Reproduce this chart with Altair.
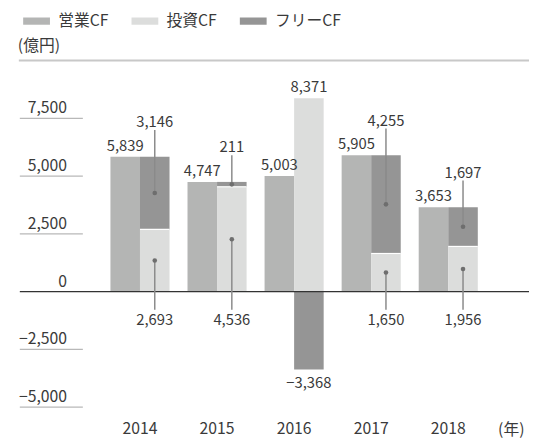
import altair as alt
import pandas as pd

# ---- data ----
years = ["2014", "2015", "2016", "2017", "2018"]
operating = [5839, 4747, 5003, 5905, 3653]   # 営業CF
investing = [2693, 4536, 8371, 1650, 1956]   # 投資CF (shown as magnitude)
free_cf = [3146, 211, -3368, 4255, 1697]     # フリーCF
series_names = ["営業CF", "投資CF", "フリーCF"]
series_colors = ["#b4b5b4", "#dcdddc", "#959595"]
tick_values = [-5000, -2500, 2500, 5000, 7500]
tick_labels = ["−5,000", "−2,500", "2,500", "5,000", "7,500"]

FONT = "Noto Sans CJK JP"
TXT = "#3a3a3a"
W, H = 517, 352
BW = 30  # bar width
FS_AX = 16
FS_VAL = 15

def fmt(v):
    s = f"{abs(v):,}"
    return ("−" + s) if v < 0 else s

# bars: left column = operating, right column = investing + free
left_df = pd.DataFrame(dict(year=years, series="営業CF", y0=0, y1=operating))
rrows = []
for yr, op, inv, fr in zip(years, operating, investing, free_cf):
    rrows.append(dict(year=yr, series="投資CF", y0=0, y1=inv))
    if fr >= 0:
        rrows.append(dict(year=yr, series="フリーCF", y0=inv, y1=op))
    else:
        rrows.append(dict(year=yr, series="フリーCF", y0=0, y1=fr))
right_df = pd.DataFrame(rrows)

op_df = pd.DataFrame(dict(year=years, v=operating, label=[fmt(v) for v in operating]))
pos = [(yr, op, inv, fr) for yr, op, inv, fr in zip(years, operating, investing, free_cf) if fr >= 0]
neg = [(yr, op, inv, fr) for yr, op, inv, fr in zip(years, operating, investing, free_cf) if fr < 0]

pos_df = pd.DataFrame(dict(
    year=[p[0] for p in pos],
    op=[p[1] for p in pos], inv=[p[2] for p in pos],
    inv_mid=[p[2] / 2 for p in pos],
    free_mid=[(p[2] + p[1]) / 2 for p in pos],
    inv_label=[fmt(p[2]) for p in pos],
    free_label=[fmt(p[3]) for p in pos],
))
neg_df = pd.DataFrame(dict(
    year=[p[0] for p in neg],
    inv=[p[2] for p in neg], fr=[p[3] for p in neg],
    inv_label=[fmt(p[2]) for p in neg],
    free_label=[fmt(p[3]) for p in neg],
))
ticks_df = pd.DataFrame(dict(v=tick_values, label=tick_labels))
lab0_df = pd.DataFrame(dict(v=[0], label=["0"]))

xscale = alt.Scale(domain=years, paddingInner=0.233, paddingOuter=0.92, align=0.639)
yscale = alt.Scale(domain=[-5000, 10000], nice=False, zero=False)
X = alt.X("year:N", scale=xscale,
          axis=alt.Axis(title=None, domain=False, ticks=False, labelAngle=0,
                        labelFontSize=FS_AX, labelPadding=14, labelColor=TXT, labelFont=FONT))

def Y(f):
    return alt.Y(f, scale=yscale, axis=None)

color = alt.Color("series:N", scale=alt.Scale(domain=series_names, range=series_colors),
                  legend=alt.Legend(title=None, orient="none", legendX=3, legendY=-54,
                                    direction="horizontal",
                                    symbolType="M-1,-0.27H1V0.27H-1Z", symbolSize=740,
                                    symbolStrokeWidth=0, labelOffset=8, columnPadding=22,
                                    labelFontSize=FS_AX, labelFont=FONT, labelColor=TXT))

bars_l = alt.Chart(left_df).mark_bar(width=BW, xOffset=-BW / 2).encode(
    x=X, y=Y("y0:Q"), y2="y1:Q", color=color)
bars_r = alt.Chart(right_df).mark_bar(width=BW, xOffset=BW / 2).encode(
    x=X, y=Y("y0:Q"), y2="y1:Q", color=color)

# thin white separator between stacked segments
sep = alt.Chart(pos_df).mark_tick(color="white", thickness=1.2, size=BW,
                                  xOffset=BW / 2, opacity=1).encode(
    x=X, y=Y("inv:Q"))

# grid stubs and y labels
stubs = alt.Chart(ticks_df).mark_rule(color="#b8b8b8", strokeWidth=1.3).encode(
    y=Y("v:Q"), x=alt.value(0), x2=alt.value(64))
ylabels = alt.Chart(pd.concat([ticks_df, lab0_df])).mark_text(
    align="right", baseline="alphabetic", dy=-5, fontSize=FS_AX, font=FONT, color=TXT).encode(
    y=Y("v:Q"), x=alt.value(48), text="label:N")

zero = alt.Chart(lab0_df).mark_rule(color="#333333", strokeWidth=1.5).encode(
    y=Y("v:Q"), x=alt.value(0), x2=alt.value(W))
top = alt.Chart(lab0_df).mark_rule(color="#c8c8c8", strokeWidth=2).encode(
    y=alt.value(0), x=alt.value(-1), x2=alt.value(W))

# value labels
op_text = alt.Chart(op_df).mark_text(baseline="alphabetic", dy=-6, xOffset=-BW / 2,
                                     fontSize=FS_VAL, font=FONT, color=TXT).encode(
    x=X, y=Y("v:Q"), text="label:N")

LEAD = "#8a8a8a"
inv_lead = alt.Chart(pos_df).mark_rule(color=LEAD, strokeWidth=1.5, xOffset=BW / 2).encode(
    x=X, y=Y("inv_mid:Q"), y2=alt.value(253))
free_lead = alt.Chart(pos_df).mark_rule(color=LEAD, strokeWidth=1.5, xOffset=BW / 2,
                                        y2Offset=-27).encode(
    x=X, y=Y("free_mid:Q"), y2="op:Q")
dots_inv = alt.Chart(pos_df).mark_circle(color="#6e6e6e", size=22, opacity=1,
                                         xOffset=BW / 2).encode(
    x=X, y=Y("inv_mid:Q"))
dots_free = alt.Chart(pos_df).mark_circle(color="#6e6e6e", size=22, opacity=1,
                                          xOffset=BW / 2).encode(
    x=X, y=Y("free_mid:Q"))
inv_text = alt.Chart(pos_df).mark_text(baseline="alphabetic", fontSize=FS_VAL, font=FONT,
                                       color=TXT, xOffset=BW / 2).encode(
    x=X, y=alt.value(269), text="inv_label:N")
free_text = alt.Chart(pos_df).mark_text(baseline="alphabetic", dy=-30, fontSize=FS_VAL,
                                        font=FONT, color=TXT, xOffset=BW / 2).encode(
    x=X, y=Y("op:Q"), text="free_label:N")
neg_inv_text = alt.Chart(neg_df).mark_text(baseline="alphabetic", dy=-6, fontSize=FS_VAL,
                                           font=FONT, color=TXT, xOffset=BW / 2).encode(
    x=X, y=Y("inv:Q"), text="inv_label:N")
neg_free_text = alt.Chart(neg_df).mark_text(baseline="alphabetic", dy=19, fontSize=FS_VAL,
                                            font=FONT, color=TXT, xOffset=BW / 2).encode(
    x=X, y=Y("fr:Q"), text="free_label:N")

unit_y = alt.Chart(lab0_df).mark_text(align="left", baseline="middle", fontSize=FS_AX,
                                      font=FONT, color=TXT, text="(億円)").encode(
    x=alt.value(-2), y=alt.value(-15))
unit_x = alt.Chart(lab0_df).mark_text(align="center", baseline="middle", fontSize=FS_AX,
                                      font=FONT, color=TXT, text="(年)").encode(
    x=alt.value(499), y=alt.value(H + 23))

chart = alt.layer(
    top, stubs, bars_l, bars_r, sep, zero, ylabels, op_text,
    inv_lead, free_lead, dots_inv, dots_free,
    inv_text, free_text, neg_inv_text, neg_free_text, unit_y, unit_x,
).properties(
    width=W, height=H,
    padding={"left": 12, "top": 50, "right": 0, "bottom": 30},
    autosize=alt.AutoSizeParams(type="none"),
).configure(font=FONT).configure_view(stroke=None)

chart.save("out.html", embed_options={"renderer": "svg", "actions": False})
